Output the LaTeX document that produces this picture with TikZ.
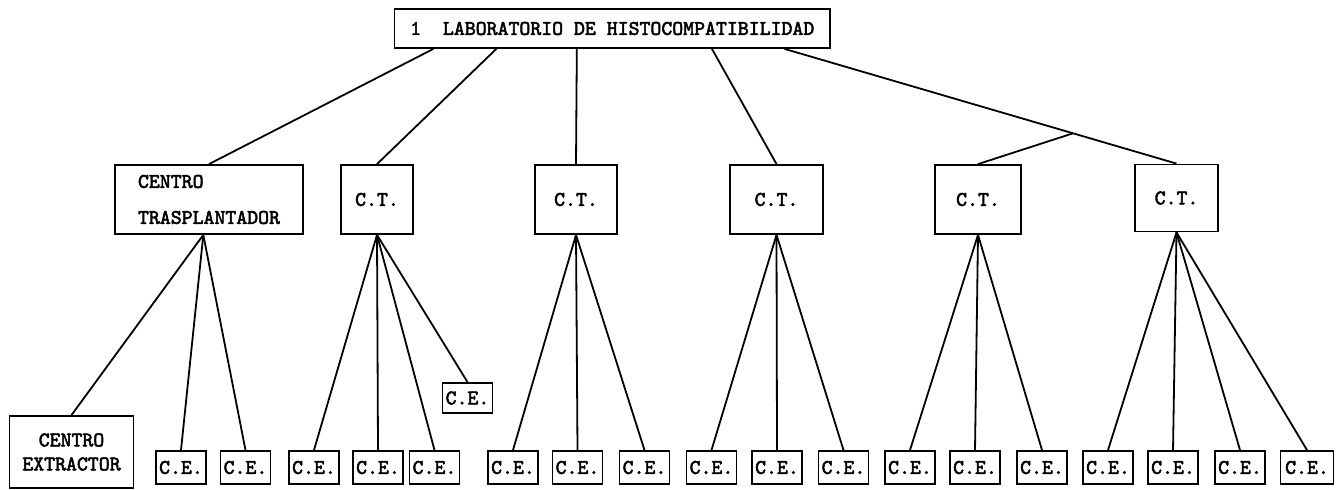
\documentclass[tikz,border=0pt]{standalone}
\usepackage{fontspec}
\setmonofont{lmmono10-regular.otf}[FakeBold=2.5]
\usetikzlibrary{calc}

\begin{document}
\begin{tikzpicture}[x=0.5pt, y=-0.5pt, line width=0.9pt,
    box/.style={draw, rectangle, inner sep=0pt, font=\ttfamily\fontsize{10.4}{11}\selectfont},
    ctbox/.style={box, minimum height=34.5pt},
    cebox/.style={box, minimum width=25pt, minimum height=16.5pt}]
    \useasboundingbox (0,0) rectangle (1342,490);

    % Nodes
    \node[box, minimum width=217.75pt, minimum height=19.5pt] (lab) at (612.25,28.5) {1\ \ LABORATORIO DE HISTOCOMPATIBILIDAD};

    \node[ctbox, minimum width=94pt, align=left, font=\ttfamily\fontsize{10.4}{18}\selectfont] (ctA) at (209,199.5) {CENTRO\\TRASPLANTADOR};
    \node[ctbox, minimum width=36pt] (ctB) at (377,199.5) {C.T.};
    \node[ctbox, minimum width=41pt] (ctC) at (576,199.5) {C.T.};
    \node[ctbox, minimum width=46.5pt] (ctD) at (776.5,199.5) {C.T.};
    \node[ctbox, minimum width=43pt] (ctE) at (978,199.5) {C.T.};
    \node[ctbox, minimum width=41.5pt, minimum height=33.5pt] (ctF) at (1176.5,198) {C.T.};

    \node[box, minimum width=62pt, minimum height=36pt, align=center, font=\ttfamily\fontsize{10.4}{12}\selectfont] (cext) at (71.5,452) {CENTRO\\EXTRACTOR};

    \node[cebox] (ce1) at (181,467.5) {C.E.};
    \node[cebox] (ce2) at (245.5,467.5) {C.E.};
    \node[cebox] (ce3) at (314,467.5) {C.E.};
    \node[cebox] (ce4) at (378,467.5) {C.E.};
    \node[cebox] (ce5) at (434.5,467.5) {C.E.};
    \node[cebox, minimum height=15pt] (ceup) at (467.5,398) {C.E.};
    \node[cebox] (ce6) at (513,467.5) {C.E.};
    \node[cebox] (ce7) at (577.5,467.5) {C.E.};
    \node[cebox] (ce8) at (644.5,467.5) {C.E.};
    \node[cebox] (ce9) at (711.5,467.5) {C.E.};
    \node[cebox] (ce10) at (777,467.5) {C.E.};
    \node[cebox] (ce11) at (843.5,467.5) {C.E.};
    \node[cebox] (ce12) at (910,467.5) {C.E.};
    \node[cebox] (ce13) at (975,467.5) {C.E.};
    \node[cebox] (ce14) at (1042,467.5) {C.E.};
    \node[cebox] (ce15) at (1108,467.5) {C.E.};
    \node[cebox] (ce16) at (1173,467.5) {C.E.};
    \node[cebox] (ce17) at (1240,467.5) {C.E.};
    \node[cebox, minimum width=26.5pt] (ce18) at (1307,467.5) {C.E.};

    % Points on the boxes
    \coordinate (labA) at ($(lab.south west)!0.091!(lab.south east)$);
    \coordinate (labB) at ($(lab.south west)!0.235!(lab.south east)$);
    \coordinate (labC) at ($(lab.south west)!0.419!(lab.south east)$);
    \coordinate (labD) at ($(lab.south west)!0.728!(lab.south east)$);
    \coordinate (labE) at ($(lab.south west)!0.894!(lab.south east)$);
    \coordinate (split) at ($(labE)!0.736!(ctF.north)$);
    \coordinate (ctAbot) at ($(ctA.south west)!0.47!(ctA.south east)$);

    % Lines
    \draw (labA) -- (ctA.north);
    \draw (labB) -- (ctB.north);
    \draw (labC) -- (ctC.north);
    \draw (labD) -- (ctD.north);
    \draw (labE) -- (ctF.north);
    \draw (split) -- (ctE.north);

    \draw (ctAbot) -- (cext.north);
    \draw (ctAbot) -- (ce1.north);
    \draw (ctAbot) -- (ce2.north);

    \draw (ctB.south) -- (ce3.north);
    \draw (ctB.south) -- (ce4.north);
    \draw (ctB.south) -- (ce5.north);
    \draw (ctB.south) -- (ceup.north);

    \draw (ctC.south) -- (ce6.north);
    \draw (ctC.south) -- (ce7.north);
    \draw (ctC.south) -- (ce8.north);

    \draw (ctD.south) -- (ce9.north);
    \draw (ctD.south) -- (ce10.north);
    \draw (ctD.south) -- (ce11.north);

    \draw (ctE.south) -- (ce12.north);
    \draw (ctE.south) -- (ce13.north);
    \draw (ctE.south) -- (ce14.north);

    \draw (ctF.south) -- (ce15.north);
    \draw (ctF.south) -- (ce16.north);
    \draw (ctF.south) -- (ce17.north);
    \draw (ctF.south) -- (ce18.north);
\end{tikzpicture}
\end{document}
